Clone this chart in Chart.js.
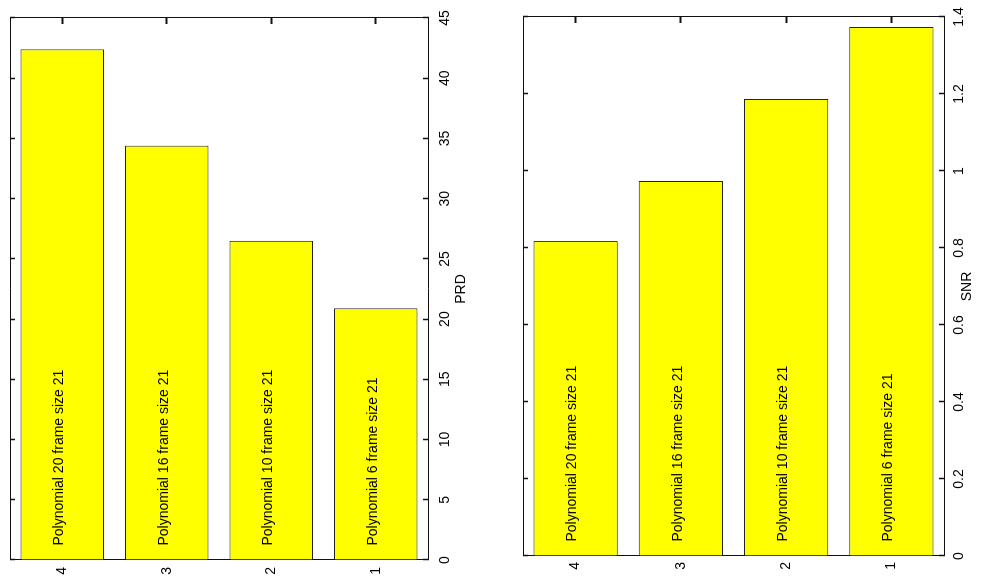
<!DOCTYPE html>
<html>
<head>
<meta charset="utf-8">
<script src="https://cdn.jsdelivr.net/npm/chart.js@4"></script>
<style>
  html, body { margin: 0; padding: 0; background: #fff; overflow: hidden; }
  body { width: 984px; height: 576px; position: relative; }
  /* the figure is drawn as horizontal bars and turned a quarter turn left */
  #rot {
    position: absolute; left: 0; top: 0;
    width: 576px; height: 984px;
    transform-origin: 0 0;
    transform: translate(0, 576px) rotate(-90deg);
  }
  #rot canvas { position: absolute; left: 0; display: block; }
</style>
</head>
<body>
<div id="rot">
  <canvas id="prd-chart" width="576" height="490" style="top:0"></canvas>
  <canvas id="snr-chart" width="576" height="494" style="top:490px"></canvas>
</div>
<script>
const categories = ['4', '3', '2', '1'];
const barNames   = [
    'Polynomial 20 frame size 21',
    'Polynomial 16 frame size 21',
    'Polynomial 10 frame size 21',
    'Polynomial 6 frame size 21',
];
const prdValues     = [42.4, 34.4, 26.5, 20.9];
const snrValues     = [0.818, 0.974, 1.187, 1.374];
const prdTicks      = [0, 5, 10, 15, 20, 25, 30, 35, 40, 45];
const prdTickLabels = ['0', '5', '10', '15', '20', '25', '30', '35', '40', '45'];
const snrTicks      = [0, 0.2, 0.4, 0.6, 0.8, 1, 1.2, 1.4];
const snrTickLabels = ['0', '0.2', '0.4', '0.6', '0.8', '1', '1.2', '1.4'];

const FONT = { family: '"Liberation Sans", Arial, sans-serif', size: 14 };
const INK  = '#111';

// tekst in de staven, vanaf de basis
const barText = {
    id: 'barText',
    afterDatasetsDraw(chart) {
        const ctx  = chart.ctx;
        const meta = chart.getDatasetMeta(0);
        ctx.save();
        ctx.font = `${FONT.size}px ${FONT.family}`;
        ctx.fillStyle = '#000';
        ctx.textAlign = 'left';
        ctx.textBaseline = 'middle';
        meta.data.forEach((bar, i) => {
            ctx.fillText(barNames[i], bar.base + 14, bar.y - 3);
        });
        ctx.restore();
    },
};

// vaste maten, zonder extra ruimte voor uitstekende labels
const fixH = h => s => { s.height = h; s.paddingLeft = 0; s.paddingRight = 0; };
const fixW = w => s => { s.width = w; s.paddingTop = 0; s.paddingBottom = 0; };

function buildChart(id, values, ticks, tickLabels, title, box) {
    const setTicks = s => { s.ticks = ticks.map(v => ({ value: v })); };
    const valueAxis = {
        type: 'linear',
        min: ticks[0],
        max: ticks[ticks.length - 1],
        afterBuildTicks: setTicks,
        grid:   { drawOnChartArea: false, tickLength: -5, color: INK, tickWidth: 1.5 },
        border: { display: true, color: INK, width: 1 },
    };

    new Chart(document.getElementById(id), {
        type: 'bar',
        data: {
            labels: categories,
            datasets: [{
                data: values,
                backgroundColor: '#ffff00',
                borderColor: '#222',
                borderWidth: 1,
                barPercentage: 0.8,
                categoryPercentage: 1,
                xAxisID: 'x',
                yAxisID: 'y',
            }],
        },
        options: {
            indexAxis: 'y',
            responsive: false,
            animation: false,
            devicePixelRatio: 1,
            layout: { padding: { top: box.top, right: box.right, left: 0, bottom: 0 } },
            plugins: {
                legend:  { display: false },
                tooltip: { enabled: false },
            },
            scales: {
                x: {
                    ...valueAxis,
                    position: 'bottom',
                    ticks: {
                        color: '#000', font: FONT, padding: box.tickPad,
                        maxRotation: 0, autoSkip: false,
                        callback: (v, i) => tickLabels[i],
                    },
                    title: {
                        display: true, text: title, color: '#000', font: FONT,
                        padding: { top: 0, bottom: box.titlePad },
                    },
                    afterFit: fixH(box.axisH),
                },
                x2: {
                    ...valueAxis,
                    position: 'top',
                    ticks: { display: false },
                    afterFit: fixH(0),
                },
                y: {
                    type: 'category',
                    position: 'left',
                    offset: true,
                    grid:   { display: false, drawTicks: false },
                    border: { display: true, color: INK, width: 1 },
                    ticks:  { color: '#000', font: FONT, padding: box.catPad },
                    afterFit: fixW(box.left),
                },
                y2: {
                    type: 'category',
                    labels: categories,
                    position: 'right',
                    offset: true,
                    grid:   { offset: false, drawOnChartArea: false, tickLength: -6, color: INK, tickWidth: 2 },
                    border: { display: true, color: INK, width: 1 },
                    ticks:  { display: false },
                    afterFit: fixW(0),
                },
            },
        },
        plugins: [barText],
    });
}

buildChart('prd-chart', prdValues, prdTicks, prdTickLabels, 'PRD',
    { top: 10, right: 18, left: 16, axisH: 62, tickPad: 14, titlePad: 20, catPad: 7 });
buildChart('snr-chart', snrValues, snrTicks, snrTickLabels, 'SNR',
    { top: 33, right: 17, left: 20, axisH: 40, tickPad: 12, titlePad: 8, catPad: 6 });
</script>
</body>
</html>
